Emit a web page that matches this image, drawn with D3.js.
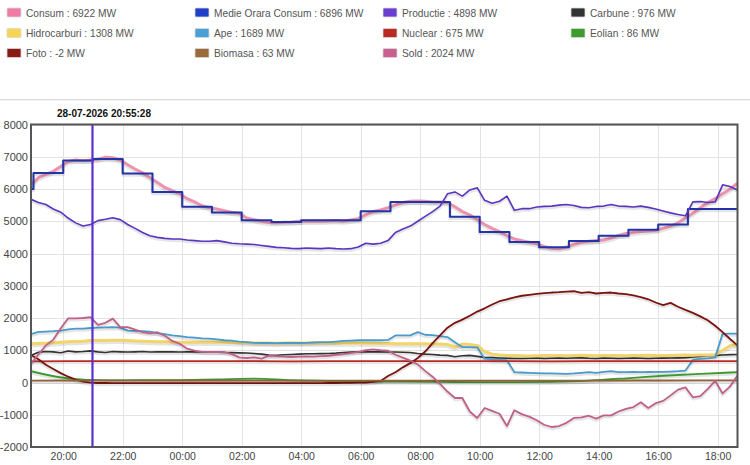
<!DOCTYPE html>
<html>
<head>
<meta charset="utf-8">
<script src="https://cdn.jsdelivr.net/npm/d3@7"></script>
<style>
  body { margin: 0; background: #fff; font-family: "Liberation Sans", Arial, sans-serif; }
  svg { display: block; }
</style>
</head>
<body>
<div id="chart"></div>
<script>
// ---- data (MW) ----
const startTime = new Date(2026, 6, 28, 18, 55);
const stepMinutes = 15;      // fast series: one value every 15 min
const slowStepMinutes = 75;  // nuclear, eolian, biomasa

const consum = [
  6120, 6350, 6450, 6550, 6700, 6850, 6900, 6880, 6900, 6920, 6990, 6970,
  6900, 6750, 6620, 6500, 6350, 6200, 6050, 5950, 5850, 5700, 5600, 5480,
  5420, 5380, 5330, 5280, 5250, 5100, 5050, 5000, 4960, 4950, 4970, 4980,
  5000, 5000, 5010, 5000, 5010, 5020, 5000, 5040, 5080, 5200, 5300, 5350,
  5420, 5500, 5580, 5620, 5630, 5620, 5600, 5600, 5580, 5450, 5300, 5200,
  5050, 4900, 4780, 4680, 4550, 4450, 4400, 4350, 4300, 4220, 4160, 4150,
  4200, 4280, 4350, 4380, 4400, 4420, 4480, 4560, 4620, 4650, 4680, 4700,
  4720, 4780, 4850, 4950, 5100, 5250, 5420, 5580, 5700, 5850, 6000, 6180
];

// hourly average: first value is the partial hour before 19:00, then 19:00, 20:00, ...
const medieOrara = [
  6000, 6500, 6880, 6930, 6480, 5910, 5450, 5270, 5030, 4980, 5030, 5030,
  5310, 5600, 5600, 5140, 4670, 4360, 4190, 4390, 4550, 4740, 4900, 5380, 5380
];

const productie = [
  5680, 5580, 5520, 5380, 5280, 5100, 4950, 4850, 4900, 5020, 5060, 5110,
  5050, 4900, 4780, 4650, 4550, 4500, 4470, 4450, 4450, 4420, 4400, 4380,
  4380, 4400, 4360, 4320, 4300, 4290, 4280, 4250, 4220, 4190, 4180, 4160,
  4150, 4170, 4160, 4150, 4170, 4150, 4140, 4150, 4200, 4320, 4290, 4320,
  4400, 4650, 4760, 4850, 5000, 5150, 5300, 5470, 5850, 5910, 5780, 5970,
  6040, 5650, 5560, 5620, 5780, 5340, 5390, 5390, 5440, 5460, 5470, 5500,
  5520, 5490, 5430, 5420, 5460, 5470, 5520, 5470, 5460, 5440, 5470, 5430,
  5380, 5320, 5260, 5210, 5170, 5600, 5610, 5580, 5600, 6130, 6080, 5970
];

const carbune = [
  840, 940, 960, 950, 920, 975, 950, 960, 980, 950, 930, 960,
  950, 945, 950, 960, 945, 950, 955, 950, 945, 950, 955, 950,
  945, 940, 930, 925, 920, 915, 900, 880, 850, 845, 860, 870,
  880, 890, 890, 895, 900, 910, 930, 945, 950, 950, 955, 950,
  945, 945, 940, 930, 900, 880, 870, 850, 840, 800, 830, 840,
  810, 780, 770, 760, 750, 745, 745, 750, 760, 745, 750, 755,
  750, 760, 765, 750, 745, 760, 750, 745, 750, 755, 750, 745,
  750, 755, 760, 765, 770, 790, 810, 830, 840, 855, 865, 870
];

const hidrocarburi = [
  1200, 1210, 1220, 1230, 1250, 1260, 1270, 1280, 1300, 1300, 1300, 1310,
  1310, 1300, 1290, 1280, 1270, 1260, 1260, 1250, 1250, 1250, 1250, 1250,
  1250, 1250, 1245, 1240, 1235, 1230, 1225, 1225, 1225, 1220, 1225, 1230,
  1225, 1225, 1230, 1225, 1225, 1220, 1225, 1230, 1225, 1220, 1215, 1210,
  1210, 1205, 1200, 1200, 1205, 1200, 1195, 1190, 1180, 1100, 1190, 1180,
  1150, 960, 880, 850, 840, 835, 830, 825, 830, 835, 840, 835,
  830, 840, 845, 835, 830, 835, 840, 835, 830, 835, 840, 845,
  840, 835, 840, 845, 850, 845, 850, 855, 860, 1000, 1140, 1180
];

const ape = [
  1500, 1570, 1580, 1590, 1610, 1650, 1670, 1670, 1690, 1700, 1710, 1720,
  1700, 1610, 1600, 1590, 1580, 1530, 1500, 1460, 1440, 1410, 1390, 1370,
  1360, 1340, 1310, 1300, 1270, 1250, 1230, 1225, 1225, 1220, 1230, 1225,
  1225, 1230, 1240, 1250, 1255, 1270, 1290, 1300, 1310, 1310, 1310, 1310,
  1320, 1460, 1460, 1460, 1560, 1480, 1470, 1440, 1410, 1250, 1100, 1100,
  1090, 740, 710, 700, 690, 320, 310, 300, 290, 285, 280, 275,
  270, 280, 300, 320, 300, 330, 350, 320, 320, 330, 320, 325,
  330, 330, 340, 350, 370, 700, 730, 750, 780, 1510, 1515, 1515
];

const nuclear = [655, 660, 660, 660, 662, 660, 660, 658, 660, 660, 662, 660, 660, 660, 658, 660, 660, 660, 662, 665];
const eolian = [350, 125, 65, 70, 75, 95, 120, 70, 50, 30, 25, 20, 10, 10, 20, 60, 130, 210, 270, 320];
const biomasa = [60, 62, 63, 63, 62, 62, 60, 60, 60, 60, 60, 58, 58, 60, 60, 60, 62, 62, 63, 63];

const foto = [
  850, 720, 550, 420, 290, 180, 90, 30, -2, -15, -15, -18,
  -20, -20, -20, -20, -20, -20, -20, -20, -20, -20, -20, -20,
  -20, -20, -20, -20, -20, -20, -20, -20, -20, -20, -20, -20,
  -20, -20, -20, -18, -15, -15, -12, -10, -5, 0, 20, 50,
  200, 320, 470, 600, 760, 960, 1220, 1460, 1700, 1850, 1950, 2070,
  2200, 2300, 2420, 2520, 2580, 2640, 2690, 2720, 2750, 2770, 2790, 2800,
  2820, 2830, 2780, 2800, 2760, 2780, 2790, 2760, 2740, 2700, 2650, 2580,
  2480, 2400, 2470, 2350, 2250, 2160, 2050, 1930, 1760, 1560, 1350, 1150
];

const sold = [
  580, 870, 1150, 1330, 1680, 1990, 1990, 2000, 2030, 1790, 1850, 1980,
  1720, 1720, 1640, 1560, 1520, 1560, 1450, 1290, 1200, 1050, 990, 950,
  946, 946, 946, 880, 780, 760, 780, 740, 830, 820, 800, 790,
  800, 810, 800, 820, 830, 860, 880, 910, 950, 1000, 1030, 1000,
  990, 860, 770, 680, 560, 360, 180, -40, -280, -480, -480, -900,
  -1100, -790, -880, -970, -1350, -860, -980, -1060, -1170, -1310, -1380, -1350,
  -1250, -1100, -1080, -1030, -1120, -1020, -1020, -900, -815, -760, -610, -790,
  -640, -570, -400, -220, -150, -460, -420, -200, 50, -340, -120, 220
];

// legend readout at the crosshair
const legendNames = ["Consum", "Medie Orara Consum", "Productie", "Carbune", "Hidrocarburi",
  "Ape", "Nuclear", "Eolian", "Foto", "Biomasa", "Sold"];
const legendValues = [6922, 6896, 4898, 976, 1308, 1689, 675, 86, -2, 63, 2024];

const yTicks = [-2000, -1000, 0, 1000, 2000, 3000, 4000, 5000, 6000, 7000, 8000];
const xTickLabels = ["20:00", "22:00", "00:00", "02:00", "04:00", "06:00",
  "08:00", "10:00", "12:00", "14:00", "16:00", "18:00"];

const crosshairTime = new Date(2026, 6, 28, 20, 59);
const titleText = "28-07-2026 20:55:28";

// ---- chart ----
const width = 750, height = 465;
const plot = { left: 31, right: 737.5, top: 124.5, bottom: 447 };

const colors = {
  "Consum": "#f07ca6",
  "Medie Orara Consum": "#1f3fc8",
  "Productie": "#6a3fd0",
  "Carbune": "#333333",
  "Hidrocarburi": "#f7d451",
  "Ape": "#4a9fd5",
  "Nuclear": "#b82a22",
  "Eolian": "#3c9c2c",
  "Foto": "#8a1a14",
  "Biomasa": "#9a6a3a",
  "Sold": "#c86090"
};

const endTime = d3.timeMinute.offset(startTime, stepMinutes * (consum.length - 1));

const x = d3.scaleTime().domain([startTime, endTime]).range([plot.left, plot.right]);
const y = d3.scaleLinear().domain([-2000, 8000]).range([plot.bottom, plot.top]);

const svg = d3.select("#chart").append("svg")
  .attr("width", width)
  .attr("height", height)
  .style("font-family", '"Liberation Sans", Arial, sans-serif');

// legend
const legendCols = [7, 195, 383, 571];
const legendRowY = [12.5, 33, 53];
const legend = svg.append("g");
legendNames.forEach((name, i) => {
  const lx = legendCols[i % 4], ly = legendRowY[Math.floor(i / 4)];
  const g = legend.append("g").attr("transform", `translate(${lx},${ly})`);
  g.append("rect")
    .attr("x", 0).attr("y", -4.5)
    .attr("width", 14).attr("height", 9)
    .attr("rx", 1)
    .attr("fill", colors[name])
    .attr("stroke", "#d8d8d8")
    .attr("stroke-width", 0.8);
  g.append("text")
    .attr("x", 19).attr("y", 0.5)
    .attr("dy", "0.35em")
    .attr("font-size", 10.2)
    .attr("fill", "#555")
    .text(`${name} : ${legendValues[i]} MW`);
});

// separator between legend and chart
svg.append("line")
  .attr("x1", 0).attr("x2", width)
  .attr("y1", 99.5).attr("y2", 99.5)
  .attr("stroke", "#dcdcdc");
svg.append("line")
  .attr("x1", 0).attr("x2", width)
  .attr("y1", 100.5).attr("y2", 100.5)
  .attr("stroke", "#f2f2f2");

// title
svg.append("text")
  .attr("x", 57).attr("y", 117)
  .attr("font-size", 10)
  .attr("font-weight", "bold")
  .attr("fill", "#111")
  .text(titleText);

// grid
const xTicks = xTickLabels.map(s => {
  const [h, m] = s.split(":").map(Number);
  const day = h < 19 ? 29 : 28;
  return new Date(2026, 6, day, h, m);
});

const grid = svg.append("g");
grid.selectAll(".gy").data(yTicks).join("line")
  .attr("x1", plot.left).attr("x2", plot.right)
  .attr("y1", d => Math.round(y(d)) + 0.5).attr("y2", d => Math.round(y(d)) + 0.5)
  .attr("stroke", "#e3e3e3");
grid.selectAll(".gx").data(xTicks).join("line")
  .attr("x1", d => Math.round(x(d)) + 0.5).attr("x2", d => Math.round(x(d)) + 0.5)
  .attr("y1", plot.top).attr("y2", plot.bottom)
  .attr("stroke", "#e3e3e3");

// axes labels
const yAxis = d3.axisLeft(y).tickValues(yTicks).tickSize(0).tickPadding(3)
  .tickFormat(d => String(d));
svg.append("g")
  .attr("transform", `translate(${plot.left},0)`)
  .call(yAxis)
  .call(g => g.select(".domain").remove())
  .selectAll("text")
  .attr("font-size", 11)
  .attr("fill", "#444")
  .attr("font-family", '"Liberation Sans", Arial, sans-serif');

const xAxis = d3.axisBottom(x).tickValues(xTicks).tickSize(0).tickPadding(6)
  .tickFormat((d, i) => xTickLabels[i]);
svg.append("g")
  .attr("transform", `translate(0,${plot.bottom})`)
  .call(xAxis)
  .call(g => g.select(".domain").remove())
  .selectAll("text")
  .attr("font-size", 10.5)
  .attr("fill", "#444")
  .attr("font-family", '"Liberation Sans", Arial, sans-serif');

// series
svg.append("clipPath").attr("id", "clip")
  .append("rect")
  .attr("x", plot.left).attr("y", plot.top)
  .attr("width", plot.right - plot.left).attr("height", plot.bottom - plot.top);

const toPoints = (values, step) =>
  values.map((v, i) => ({ t: d3.timeMinute.offset(startTime, i * step), v }));

const mediePoints = medieOrara.map((v, i) => ({
  t: i === 0 ? startTime : new Date(2026, 6, 28, 19 + i - 1),
  v
}));
mediePoints.push({ t: endTime, v: medieOrara[medieOrara.length - 1] });

const series = [
  { name: "Consum", points: toPoints(consum, stepMinutes), width: 3, color: "#eb8aa6", opacity: 0.9 },
  { name: "Medie Orara Consum", points: mediePoints, width: 2, color: "#2234a8", step: true },
  { name: "Productie", points: toPoints(productie, stepMinutes), width: 1.6, color: "#5a36c0" },
  { name: "Carbune", points: toPoints(carbune, stepMinutes), width: 1.6, color: "#333333" },
  { name: "Hidrocarburi", points: toPoints(hidrocarburi, stepMinutes), width: 3, color: "#f3d469" },
  { name: "Ape", points: toPoints(ape, stepMinutes), width: 1.8, color: "#4a9bcc" },
  { name: "Nuclear", points: toPoints(nuclear, slowStepMinutes), width: 1.8, color: "#b82a26" },
  { name: "Eolian", points: toPoints(eolian, slowStepMinutes), width: 1.8, color: "#3c9a30", smooth: true },
  { name: "Foto", points: toPoints(foto, stepMinutes), width: 1.8, color: "#7a1410" },
  { name: "Biomasa", points: toPoints(biomasa, slowStepMinutes), width: 1.8, color: "#8f6238" },
  { name: "Sold", points: toPoints(sold, stepMinutes), width: 1.8, color: "#c06088" }
];

const lines = svg.append("g").attr("clip-path", "url(#clip)");

series.forEach(s => {
  const line = d3.line()
    .x(d => x(d.t))
    .y(d => y(d.v))
    .curve(s.step ? d3.curveStepAfter : (s.smooth ? d3.curveMonotoneX : d3.curveLinear));

  // soft shadow like the original
  lines.append("path")
    .datum(s.points)
    .attr("d", line)
    .attr("fill", "none")
    .attr("stroke", "#000")
    .attr("stroke-opacity", 0.1)
    .attr("stroke-width", s.width + 1.5)
    .attr("stroke-linejoin", "round")
    .attr("transform", "translate(0,1.5)");

  lines.append("path")
    .datum(s.points)
    .attr("d", line)
    .attr("fill", "none")
    .attr("stroke", s.color)
    .attr("stroke-opacity", s.opacity || 1)
    .attr("stroke-width", s.width)
    .attr("stroke-linejoin", "round");
});

// crosshair
svg.append("line")
  .attr("x1", x(crosshairTime)).attr("x2", x(crosshairTime))
  .attr("y1", plot.top).attr("y2", plot.bottom)
  .attr("stroke", "#5a2fd0")
  .attr("stroke-width", 2.2);

// plot border
svg.append("rect")
  .attr("x", plot.left).attr("y", plot.top)
  .attr("width", plot.right - plot.left).attr("height", plot.bottom - plot.top)
  .attr("fill", "none")
  .attr("stroke", "#555")
  .attr("stroke-width", 2);
</script>
</body>
</html>
